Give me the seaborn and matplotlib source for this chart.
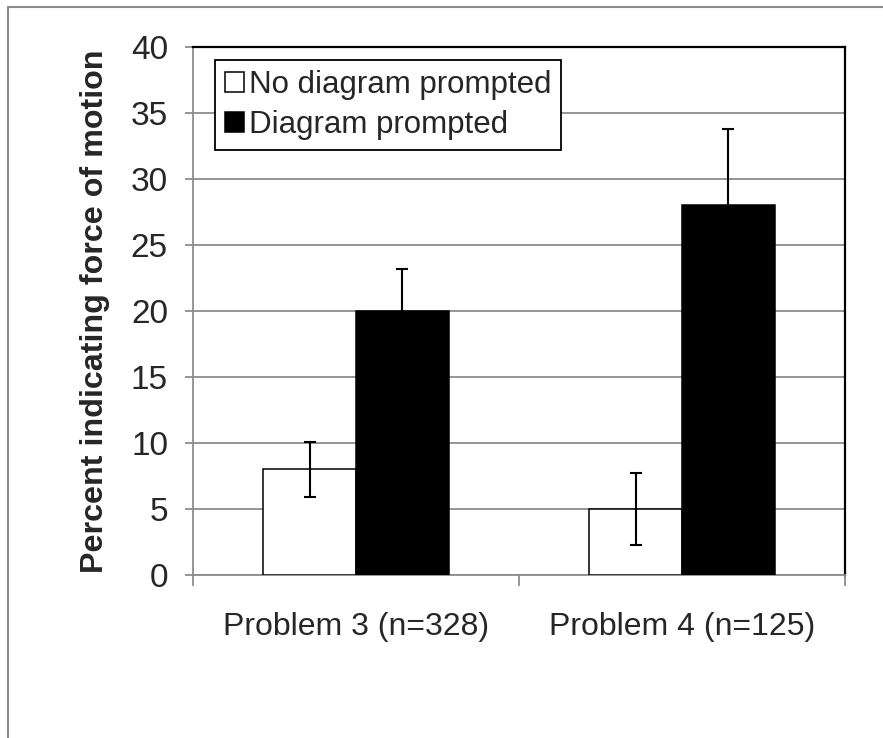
import matplotlib
matplotlib.use("Agg")
import matplotlib.pyplot as plt
from matplotlib.lines import Line2D
import seaborn as sns
import pandas as pd
import numpy as np

categories = ["Problem 3 (n=328)", "Problem 4 (n=125)"]
groups = ["No diagram prompted", "Diagram prompted"]
no_diagram = [8, 5]
diagram = [20, 28]
no_diagram_err = [2.1, 2.7]
diagram_err = [3.2, 5.8]
yticks = [0, 5, 10, 15, 20, 25, 30, 35, 40]

df = pd.DataFrame({
    "category": categories * 2,
    "group": [groups[0]] * 2 + [groups[1]] * 2,
    "value": no_diagram + diagram,
    "err": no_diagram_err + diagram_err,
})

sns.set_style("white")
plt.rcParams["font.family"] = ["Liberation Sans", "DejaVu Sans"]

fig = plt.figure(figsize=(8.83, 7.38), dpi=100)
ax = fig.add_axes([193 / 883, 1 - 575 / 738, (845 - 193) / 883, (575 - 47) / 738])

sns.barplot(data=df, x="category", y="value", hue="group", hue_order=groups,
            order=categories, palette={groups[0]: "white", groups[1]: "black"},
            edgecolor="black", linewidth=1.1, width=0.57, errorbar=None, ax=ax,
            zorder=3)

# error bars from bar patches
bars = [p for p in ax.patches if p.get_height() > 0]
for p in bars:
    cx = p.get_x() + p.get_width() / 2
    h = p.get_height()
    row = df[np.isclose(df["value"], h)]
    e = row["err"].iloc[0]
    ax.errorbar(cx, h, yerr=e, color="black", capsize=4.5, elinewidth=1.5,
                capthick=1.5, zorder=4)

ax.set_xlim(-0.5, 1.5)
ax.set_ylim(0, 40)
ax.set_yticks(yticks)
ax.set_yticklabels([str(v) for v in yticks], fontsize=24)
ax.grid(axis="y", color="#8c8c8c", linewidth=1.3, zorder=0)
ax.set_axisbelow(True)

ax.tick_params(axis="y", length=6, width=1.3, color="#8c8c8c", pad=12, left=True)
ax.tick_params(axis="x", which="major", length=0, pad=27, labelsize=23)
ax.set_xticks([-0.5, 0.5, 1.5], minor=True)
ax.tick_params(axis="x", which="minor", length=8, width=1.3, color="#8c8c8c", bottom=True)

for s in ["left", "bottom"]:
    ax.spines[s].set_color("#8c8c8c")
    ax.spines[s].set_linewidth(1.3)
for s in ["top", "right"]:
    ax.spines[s].set_visible(True)
    ax.spines[s].set_color("black")
    ax.spines[s].set_linewidth(1.6)

ax.set_xlabel("")
ax.set_ylabel("Percent indicating force of motion", fontsize=23.2, fontweight="bold")
ax.yaxis.set_label_coords(-0.127, 0.5)

handles, labels = ax.get_legend_handles_labels()
leg = ax.legend(handles, labels, loc="upper left", bbox_to_anchor=(0.034, 0.976),
                fontsize=22.5, frameon=True, fancybox=False, framealpha=1,
                edgecolor="black", handlelength=0.6, handleheight=0.6,
                handletextpad=0.15, borderpad=0.32, labelspacing=0.32,
                borderaxespad=0)
leg.get_frame().set_linewidth(1.3)

# outer chart border (top and left)
fig.add_artist(Line2D([8 / 883, 1], [1 - 7 / 738, 1 - 7 / 738], color="#8c8c8c", linewidth=1.5))
fig.add_artist(Line2D([8 / 883, 8 / 883], [0, 1 - 7 / 738], color="#8c8c8c", linewidth=1.5))

fig.savefig("out.png", dpi=100)
